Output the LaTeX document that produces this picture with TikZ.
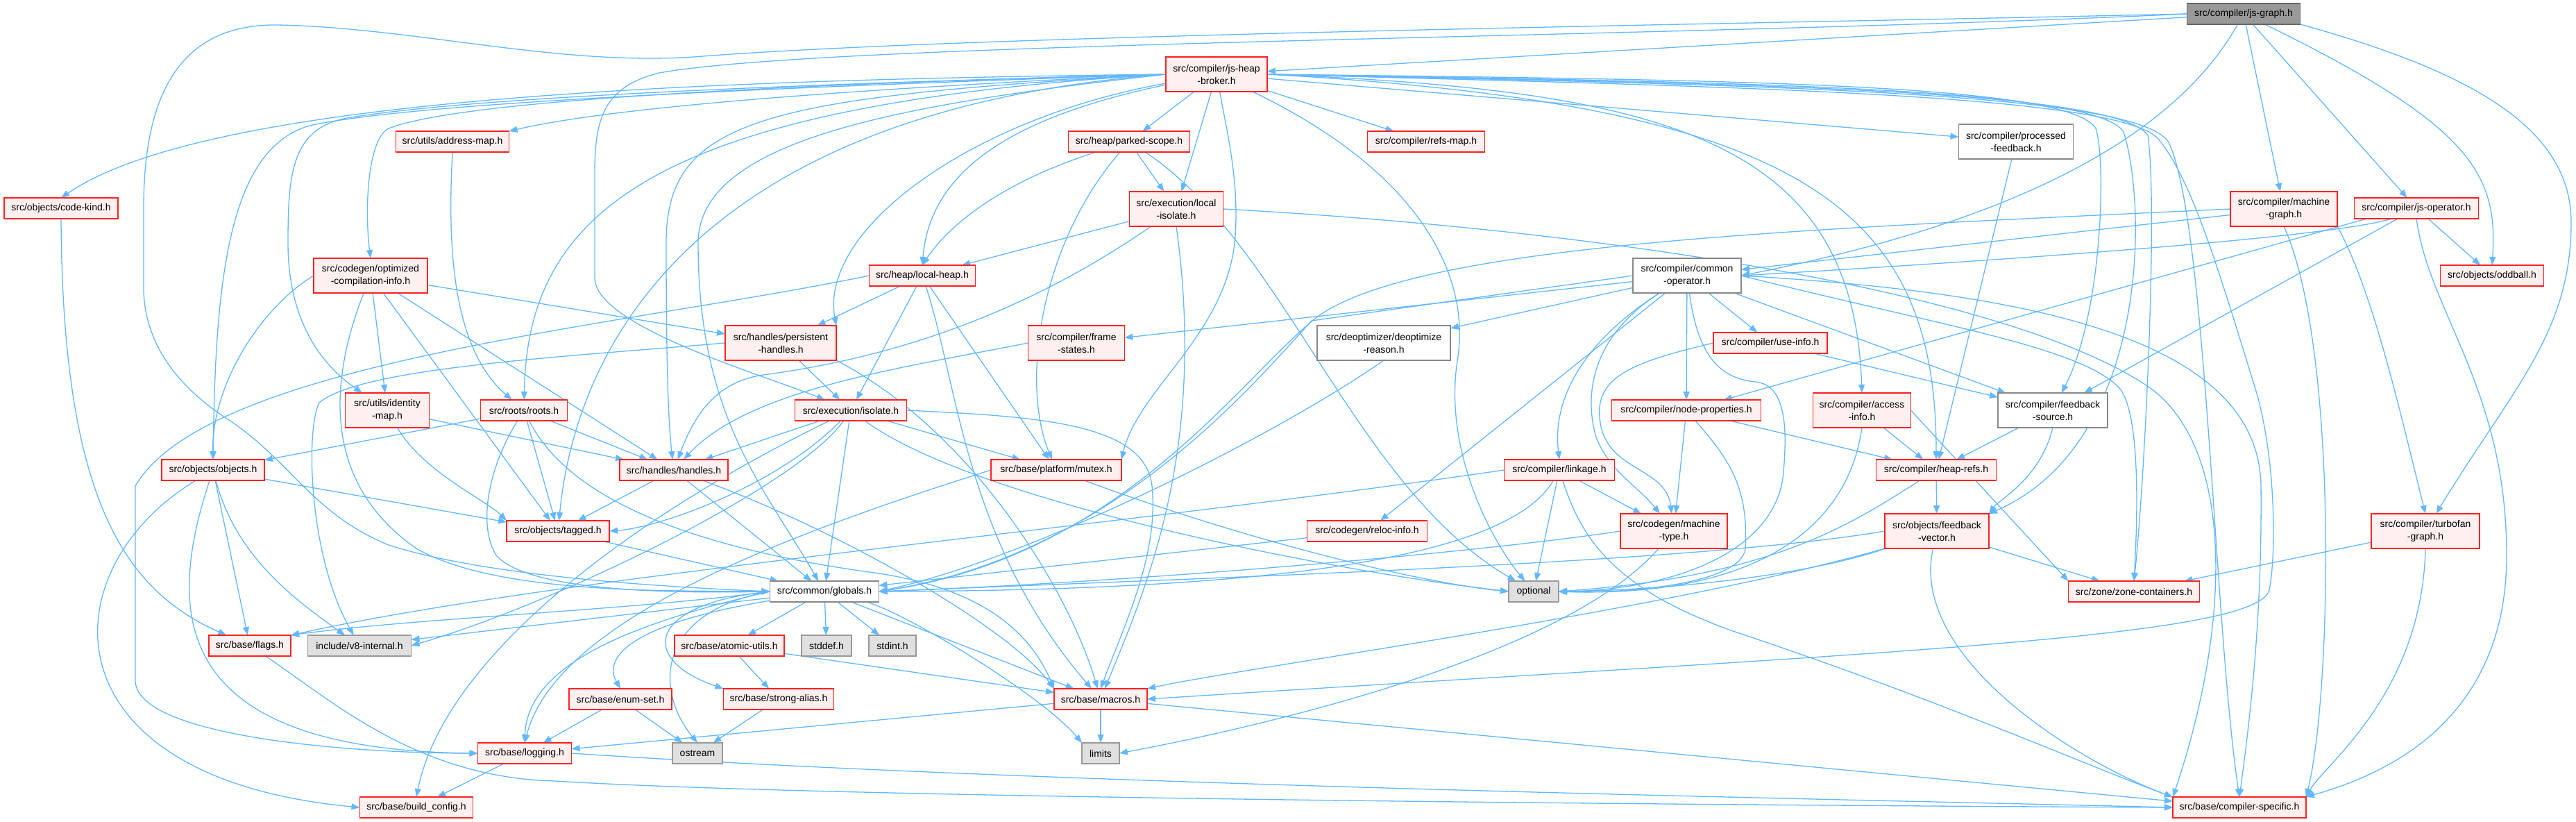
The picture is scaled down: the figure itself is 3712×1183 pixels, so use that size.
\documentclass[tikz,border=0pt]{standalone}
\usepackage{fontspec}
\setmainfont{Liberation Sans}
\usetikzlibrary{arrows.meta,calc,backgrounds}
\definecolor{edgec}{HTML}{63B8FF}
\definecolor{redb}{HTML}{FF2020}
\definecolor{redf}{HTML}{FFF0F0}
\definecolor{grayb}{HTML}{999999}
\definecolor{grayf}{HTML}{E0E0E0}
\definecolor{whb}{HTML}{888888}
\definecolor{topf}{HTML}{999999}
\definecolor{topb}{HTML}{666666}
\tikzset{
  nbase/.style={rectangle, line width=1.5pt, inner sep=0pt, outer sep=0pt, align=center, font=\fontsize{14}{18}\selectfont, text=black},
  nred/.style={nbase, draw=redb, fill=redf},
  nwhite/.style={nbase, draw=whb, fill=white},
  ngray/.style={nbase, draw=grayb, fill=grayf},
  ntop/.style={nbase, draw=topb, fill=topf},
  one/.style={minimum height=30pt},
  two/.style={minimum height=50pt},
  ed/.style={draw=edgec, line width=1.3pt, -{Triangle[length=12pt,width=9pt]}},
}
\begin{document}
\begin{tikzpicture}[x=1pt,y=1pt]
\useasboundingbox (0,0) rectangle (3712,-1183);
% nodes
\node[ntop,minimum width=163pt,one] (JG) at (3233,-20) {src/compiler/js-graph.h};
\node[nred,minimum width=146pt,two] (BR) at (1753,-107) {src/compiler/js-heap\\-broker.h};
\node[nred,minimum width=163pt,one] (AM) at (652,-204) {src/utils/address-map.h};
\node[nred,minimum width=164pt,one] (CK) at (88,-300) {src/objects/code-kind.h};
\node[nred,minimum width=175pt,one] (PS) at (1627,-204) {src/heap/parked-scope.h};
\node[nred,minimum width=169pt,one] (RM) at (2055,-204) {src/compiler/refs-map.h};
\node[nwhite,minimum width=165pt,two] (PF) at (2905,-204) {src/compiler/processed\\-feedback.h};
\node[nred,minimum width=135pt,two] (LI) at (1695,-301) {src/execution/local\\-isolate.h};
\node[nred,minimum width=154pt,two] (MG) at (3291,-301) {src/compiler/machine\\-graph.h};
\node[nred,minimum width=179pt,one] (JO) at (3482,-300) {src/compiler/js-operator.h};
\node[nred,minimum width=164pt,two] (OC) at (534,-397) {src/codegen/optimized\\-compilation-info.h};
\node[nred,minimum width=153pt,one] (LH) at (1329,-397) {src/heap/local-heap.h};
\node[nwhite,minimum width=156pt,two] (CO) at (2431,-397) {src/compiler/common\\-operator.h};
\node[nred,minimum width=149pt,one] (OD) at (3591,-397) {src/objects/oddball.h};
\node[nred,minimum width=160pt,two] (PH) at (1125,-494) {src/handles/persistent\\-handles.h};
\node[nred,minimum width=139pt,two] (FR) at (1551,-494) {src/compiler/frame\\-states.h};
\node[nwhite,minimum width=192pt,two] (DR) at (1994,-494) {src/deoptimizer/deoptimize\\-reason.h};
\node[nred,minimum width=164pt,one] (UI) at (2551,-494) {src/compiler/use-info.h};
\node[nred,minimum width=121pt,two] (IM) at (558,-591) {src/utils/identity\\-map.h};
\node[nred,minimum width=125pt,one] (RO) at (755,-591) {src/roots/roots.h};
\node[nred,minimum width=161pt,one] (IS) at (1226,-591) {src/execution/isolate.h};
\node[nred,minimum width=215pt,one] (NP) at (2430,-591) {src/compiler/node-properties.h};
\node[nred,minimum width=141pt,two] (AI) at (2683,-591) {src/compiler/access\\-info.h};
\node[nwhite,minimum width=158pt,two] (FS) at (2958,-591) {src/compiler/feedback\\-source.h};
\node[nred,minimum width=148pt,one] (OB) at (307,-677) {src/objects/objects.h};
\node[nred,minimum width=156pt,one] (HA) at (971,-677) {src/handles/handles.h};
\node[nred,minimum width=188pt,one] (MU) at (1522,-677) {src/base/platform/mutex.h};
\node[nred,minimum width=159pt,one] (LK) at (2247,-677) {src/compiler/linkage.h};
\node[nred,minimum width=173pt,one] (HR) at (2790,-677) {src/compiler/heap-refs.h};
\node[nred,minimum width=148pt,one] (TA) at (804,-765) {src/objects/tagged.h};
\node[nred,minimum width=173pt,one] (RI) at (1970,-765) {src/codegen/reloc-info.h};
\node[nred,minimum width=154pt,two] (MT) at (2412,-765) {src/codegen/machine\\-type.h};
\node[nred,minimum width=150pt,two] (FV) at (2791,-765) {src/objects/feedback\\-vector.h};
\node[nred,minimum width=156pt,two] (TG) at (3495,-765) {src/compiler/turbofan\\-graph.h};
\node[nwhite,minimum width=157pt,one] (GL) at (1188,-852) {src/common/globals.h};
\node[ngray,minimum width=72pt,one] (OP) at (2210,-852) {optional};
\node[nred,minimum width=189pt,one] (ZC) at (3075,-852) {src/zone/zone-containers.h};
\node[nred,minimum width=118pt,one] (FL) at (360,-930) {src/base/flags.h};
\node[ngray,minimum width=149pt,one] (VI) at (518,-930) {include/v8-internal.h};
\node[nred,minimum width=158pt,one] (AU) at (1051,-930) {src/base/atomic-utils.h};
\node[ngray,minimum width=72pt,one] (SD) at (1191,-930) {stddef.h};
\node[ngray,minimum width=68pt,one] (SI) at (1286,-930) {stdint.h};
\node[nred,minimum width=148pt,one] (ES) at (894,-1007) {src/base/enum-set.h};
\node[nred,minimum width=159pt,one] (SA) at (1122,-1007) {src/base/strong-alias.h};
\node[nred,minimum width=134pt,one] (MA) at (1586,-1007) {src/base/macros.h};
\node[nred,minimum width=135pt,one] (LO) at (756,-1085) {src/base/logging.h};
\node[ngray,minimum width=72pt,one] (OS) at (1005,-1085) {ostream};
\node[ngray,minimum width=54pt,one] (LM) at (1586,-1085) {limits};
\node[nred,minimum width=163pt,one] (BC) at (600,-1163) {src/base/build\_config.h};
\node[nred,minimum width=192pt,one] (CS) at (3227,-1163) {src/base/compiler-specific.h};
\coordinate (JOa) at ($(JO.south west)!0.3!(JO.south east)$);
\coordinate (JOb) at ($(JO.south west)!0.1!(JO.south east)$);
\coordinate (NPa) at ($(NP.north)!0.5!(NP.north east)$);
\begin{scope}[on background layer]
\fill[white] (0,0) rectangle (3712,-1183);
% js-graph
\draw[ed] (JG) -- (BR);
\draw[ed] (JG.west) .. controls (2500,-35) and (1400,-50) .. (1000,-82) .. controls (800,-95) and (600,-40) .. (400,-36) .. controls (250,-34) and (207,-150) .. (207,-300) -- (207,-420) .. controls (210,-500) and (260,-560) .. (330,-605) .. controls (420,-665) and (450,-740) .. (560,-785) .. controls (700,-830) and (950,-845) .. (GL.west);
\draw[ed] (JG.west) .. controls (2400,-55) and (1200,-60) .. (950,-105) .. controls (870,-125) and (857,-170) .. (857,-250) -- (857,-400) .. controls (857,-470) and (1100,-540) .. (IS);
\draw[ed] (JG) .. controls (3120,-220) and (2850,-330) .. (CO.east);
\draw[ed] (JG) -- (MG);
\draw[ed] (JG) -- (JO);
\draw[ed] (JG) .. controls (3560,-180) and (3600,-250) .. (OD.north);
\draw[ed] (JG.south east) .. controls (3550,-100) and (3705,-180) .. (3705,-320) .. controls (3705,-480) and (3620,-560) .. (TG);
% js-heap-broker
\draw[ed] (BR.west) .. controls (1000,-115) and (300,-140) .. (CK.north);
\draw[ed] (BR.west) .. controls (1300,-125) and (900,-150) .. (AM.north east);
\draw[ed] (BR.west) .. controls (1000,-125) and (650,-150) .. (560,-185) .. controls (530,-200) and (525,-300) .. (OC.north);
\draw[ed] (BR) -- (PS);
\draw[ed] (BR) -- (RM);
\draw[ed] (BR) -- (PF);
\draw[ed] (BR) -- (LI);
\draw[ed] (BR) .. controls (1450,-170) and (1340,-250) .. (LH.north);
\draw[ed] (BR) .. controls (1400,-170) and (1180,-330) .. (PH.north east);
\draw[ed] (BR.west) .. controls (1000,-125) and (650,-145) .. (500,-170) .. controls (420,-185) and (415,-250) .. (415,-350) .. controls (415,-470) and (470,-530) .. (IM);
\draw[ed] (BR.west) .. controls (950,-150) and (760,-300) .. (RO);
\draw[ed] (BR.west) .. controls (1000,-160) and (830,-500) .. (TA);
\draw[ed] (BR.west) .. controls (1100,-140) and (960,-170) .. (960,-350) .. controls (960,-500) and (962,-600) .. (HA);
\draw[ed] (BR.west) .. controls (1300,-150) and (1006,-200) .. (1006,-350) .. controls (1006,-600) and (1100,-700) .. (GL);
\draw[ed] (BR.west) .. controls (1000,-130) and (600,-150) .. (450,-180) .. controls (330,-210) and (310,-400) .. (OB);
\draw[ed] (BR) .. controls (1770,-200) and (1785,-260) .. (1780,-340) .. controls (1770,-480) and (1640,-560) .. (MU.north east);
\draw[ed] (BR.east) .. controls (2500,-125) and (3050,-135) .. (3110,-200) .. controls (3160,-260) and (3200,-400) .. (3250,-560) .. controls (3280,-660) and (3280,-800) .. (3270,-850) .. controls (3250,-920) and (2700,-940) .. (MA.east);
\draw[ed] (BR) .. controls (2050,-250) and (2120,-400) .. (2100,-520) .. controls (2080,-650) and (2150,-780) .. (OP);
\draw[ed] (BR.east) .. controls (2400,-130) and (2671,-200) .. (AI.north);
\draw[ed] (BR.east) .. controls (2500,-115) and (2980,-120) .. (3020,-185) .. controls (3035,-230) and (3030,-450) .. (FS);
\draw[ed] (BR.east) .. controls (2600,-150) and (2790,-300) .. (HR.north);
\draw[ed] (BR.east) .. controls (2500,-118) and (3020,-125) .. (3060,-190) .. controls (3095,-300) and (3095,-640) .. (FV.north east);
\draw[ed] (BR.east) .. controls (2500,-120) and (3050,-128) .. (3095,-195) .. controls (3110,-300) and (3090,-700) .. (ZC.north);
\draw[ed] (BR.east) .. controls (2500,-122) and (3080,-130) .. (3125,-205) .. controls (3180,-320) and (3190,-900) .. (CS.north);
% address-map, code-kind
\draw[ed] (AM.south) .. controls (645,-350) and (650,-500) .. (RO);
\draw[ed] (CK.south) .. controls (90,-720) and (180,-850) .. (FL);
% optimized-compilation-info
\draw[ed] (OC.west) .. controls (380,-440) and (305,-550) .. (OB);
\draw[ed] (OC) -- (IM);
\draw[ed] (OC) -- (PH);
\draw[ed] (OC) .. controls (470,-560) and (470,-700) .. (600,-790) .. controls (720,-860) and (1000,-850) .. (GL.west);
\draw[ed] (OC) -- (TA);
\draw[ed] (OC) -- (HA);
% parked-scope
\draw[ed] (PS) .. controls (1450,-260) and (1370,-320) .. (LH.north);
\draw[ed] (PS) -- (LI);
\draw[ed] (PS) .. controls (1500,-350) and (1470,-550) .. (MU);
\draw[ed] (PS) .. controls (1850,-350) and (1950,-700) .. (OP);
% local-isolate
\draw[ed] (LI) -- (LH);
\draw[ed] (LI) .. controls (1450,-470) and (1250,-520) .. (1100,-540) .. controls (1030,-550) and (1000,-600) .. (HA);
\draw[ed] (LI.south) .. controls (1740,-650) and (1650,-850) .. (MA);
\draw[ed] (LI.east) .. controls (2300,-330) and (2900,-420) .. (3100,-560) .. controls (3220,-650) and (3215,-900) .. (CS.north west);
% local-heap
\draw[ed] (LH) -- (PH);
\draw[ed] (LH) -- (IS);
\draw[ed] (LH) -- (MU);
\draw[ed] (LH) .. controls (1380,-550) and (1390,-780) .. (MA);
\draw[ed] (LH.west) .. controls (900,-470) and (300,-520) .. (195,-700) -- (195,-980) .. controls (195,-1060) and (500,-1085) .. (LO.west);
% persistent-handles
\draw[ed] (PH) -- (IS);
\draw[ed] (PH.west) .. controls (800,-515) and (520,-530) .. (460,-580) .. controls (440,-620) and (445,-800) .. (VI);
\draw[ed] (PH.south east) .. controls (1400,-620) and (1540,-850) .. (MA);
% frame-states, deoptimize-reason, reloc-info
\draw[ed] (FR.west) .. controls (1300,-530) and (1080,-560) .. (HA);
\draw[ed] (DR.south) .. controls (1850,-620) and (1500,-800) .. (GL.east);
\draw[ed] (RI) -- (GL);
% common-operator
\draw[ed] (CO) -- (FR);
\draw[ed] (CO) -- (DR);
\draw[ed] (CO.west) -- (1890,-462) .. controls (1800,-560) and (1600,-800) .. (GL.east);
\draw[ed] (CO) -- (UI);
\draw[ed] (CO) -- (NP);
\draw[ed] (CO) .. controls (2300,-480) and (2235,-560) .. (LK.north);
\draw[ed] (CO) -- (RI);
\draw[ed] (CO) .. controls (2300,-480) and (2280,-560) .. (2300,-630) .. controls (2320,-680) and (2360,-700) .. (MT);
\draw[ed] (CO) .. controls (2445,-500) and (2470,-545) .. (2530,-550) .. controls (2575,-555) and (2575,-620) .. (2570,-680) .. controls (2560,-800) and (2400,-850) .. (OP.east);
\draw[ed] (CO) -- (FS);
\draw[ed] (CO.east) .. controls (2800,-470) and (3000,-500) .. (3055,-560) .. controls (3085,-600) and (3080,-750) .. (ZC.north);
\draw[ed] (CO.east) .. controls (2900,-420) and (3255,-480) .. (3258,-700) .. controls (3260,-900) and (3240,-1050) .. (CS.north);
% use-info
\draw[ed] (UI.west) .. controls (2360,-520) and (2300,-540) .. (2305,-600) .. controls (2310,-680) and (2400,-670) .. (MT);
\draw[ed] (UI) -- (FS);
% node-properties
\draw[ed] (NP) -- (HR);
\draw[ed] (NP) -- (MT);
\draw[ed] (NP) .. controls (2490,-660) and (2520,-700) .. (2515,-790) .. controls (2510,-840) and (2350,-855) .. (OP.east);
% access-info
\draw[ed] (AI) -- (HR);
\draw[ed] (AI.east) -- (ZC.north west);
\draw[ed] (AI.south) .. controls (2660,-780) and (2500,-860) .. (OP.east);
% feedback-source
\draw[ed] (FS) -- (HR);
\draw[ed] (FS.south) .. controls (2940,-690) and (2880,-720) .. (FV.north east);
% processed-feedback
\draw[ed] (PF) -- (HR);
% heap-refs
\draw[ed] (HR) -- (FV);
\draw[ed] (HR) .. controls (2660,-760) and (2550,-830) .. (OP.east);
% feedback-vector
\draw[ed] (FV) -- (ZC);
\draw[ed] (FV.west) .. controls (2450,-810) and (1800,-830) .. (GL.east);
\draw[ed] (FV) .. controls (2600,-830) and (2400,-850) .. (OP.east);
\draw[ed] (FV.south west) .. controls (2400,-880) and (1800,-960) .. (MA.north east);
\draw[ed] (FV) .. controls (2750,-950) and (3000,-1100) .. (CS.north west);
% linkage
\draw[ed] (LK.west) .. controls (1600,-760) and (800,-830) .. (FL.north east);
\draw[ed] (LK) .. controls (2170,-810) and (1800,-850) .. (GL.east);
\draw[ed] (LK) -- (OP);
\draw[ed] (LK) -- (MT);
\draw[ed] (LK) .. controls (2280,-780) and (2330,-850) .. (2500,-910) .. controls (2800,-1010) and (3000,-1100) .. (CS.north west);
% machine-type
\draw[ed] (MT.west) .. controls (2100,-800) and (1600,-840) .. (GL.east);
\draw[ed] (MT) .. controls (2250,-950) and (1800,-1050) .. (LM.east);
% turbofan-graph
\draw[ed] (TG) -- (ZC);
\draw[ed] (TG.south) .. controls (3490,-1000) and (3350,-1100) .. (CS.north east);
% machine-graph
\draw[ed] (MG) -- (CO);
\draw[ed] (MG.west) .. controls (2600,-330) and (2050,-350) .. (1900,-455) .. controls (1790,-540) and (1620,-800) .. (GL.east);
\draw[ed] (MG.south east) .. controls (3420,-420) and (3460,-600) .. (TG.north);
\draw[ed] (MG.south) .. controls (3370,-500) and (3360,-1000) .. (CS.north east);
% js-operator
\draw[ed] (JOa) .. controls (3350,-345) and (2800,-380) .. (CO.east);
\draw[ed] (JOb) -- (NPa);
\draw[ed] (JO) -- (FS);
\draw[ed] (JO) -- (OD);
\draw[ed] (JO.south) .. controls (3500,-450) and (3612,-560) .. (3612,-800) .. controls (3612,-1050) and (3420,-1120) .. (CS.north east);
% objects
\draw[ed] (OB) -- (TA);
\draw[ed] (OB) .. controls (70,-820) and (60,-1120) .. (BC.west);
\draw[ed] (OB) .. controls (240,-880) and (240,-1080) .. (LO.west);
\draw[ed] (OB) -- (FL);
\draw[ed] (OB) .. controls (340,-800) and (420,-860) .. (VI);
% handles
\draw[ed] (HA) -- (TA);
\draw[ed] (HA) -- (GL);
\draw[ed] (HA) .. controls (1200,-760) and (1450,-900) .. (MA.north west);
% roots
\draw[ed] (RO) -- (OB);
\draw[ed] (RO) -- (HA);
\draw[ed] (RO) -- (TA);
\draw[ed] (RO) .. controls (700,-680) and (690,-760) .. (715,-800) .. controls (760,-850) and (950,-855) .. (GL.west);
\draw[ed] (RO) .. controls (820,-720) and (1000,-790) .. (1260,-825) .. controls (1400,-845) and (1480,-900) .. (MA.north west);
% identity-map
\draw[ed] (IM) -- (HA);
\draw[ed] (IM) .. controls (610,-680) and (700,-720) .. (TA.north west);
% tagged
\draw[ed] (TA) -- (GL);
% isolate
\draw[ed] (IS) -- (HA);
\draw[ed] (IS) .. controls (1120,-700) and (950,-760) .. (TA.east);
\draw[ed] (IS) -- (GL);
\draw[ed] (IS) -- (MU);
\draw[ed] (IS.east) .. controls (1500,-600) and (1650,-610) .. (1660,-700) .. controls (1670,-800) and (1620,-900) .. (MA.north);
\draw[ed] (IS) .. controls (1400,-720) and (1900,-820) .. (OP.west);
\draw[ed] (IS) .. controls (1150,-700) and (800,-870) .. (VI.east);
\draw[ed] (IS) .. controls (900,-750) and (640,-950) .. (BC.north);
% mutex
\draw[ed] (MU) .. controls (1800,-780) and (2050,-840) .. (OP.west);
\draw[ed] (MU.west) .. controls (1100,-780) and (800,-900) .. (LO.north);
% globals
\draw[ed] (GL.west) .. controls (900,-880) and (600,-890) .. (FL.north east);
\draw[ed] (GL) -- (VI);
\draw[ed] (GL) -- (AU);
\draw[ed] (GL) -- (SD);
\draw[ed] (GL) -- (SI);
\draw[ed] (GL) .. controls (900,-900) and (870,-950) .. (ES.north);
\draw[ed] (GL.west) .. controls (930,-870) and (920,-950) .. (SA.north west);
\draw[ed] (GL.west) .. controls (900,-900) and (760,-960) .. (LO.north);
\draw[ed] (GL.west) .. controls (950,-880) and (940,-990) .. (OS.north);
\draw[ed] (GL) -- (MA);
\draw[ed] (GL) .. controls (1300,-880) and (1500,-1000) .. (LM.north west);
% atomic-utils, enum-set, strong-alias
\draw[ed] (AU) -- (MA);
\draw[ed] (AU) -- (SA);
\draw[ed] (ES) -- (LO);
\draw[ed] (ES) -- (OS);
\draw[ed] (SA) -- (OS);
% macros
\draw[ed] (MA) -- (LO);
\draw[ed] (MA) -- (LM);
\draw[ed] (MA) -- (CS);
% logging, flags
\draw[ed] (LO) -- (BC);
\draw[ed] (LO.east) .. controls (1500,-1130) and (2600,-1150) .. (CS.west);
\draw[ed] (FL) .. controls (480,-1010) and (600,-1120) .. (800,-1125) .. controls (1200,-1150) and (2500,-1160) .. (CS.west);
\end{scope}
\end{tikzpicture}
\end{document}
